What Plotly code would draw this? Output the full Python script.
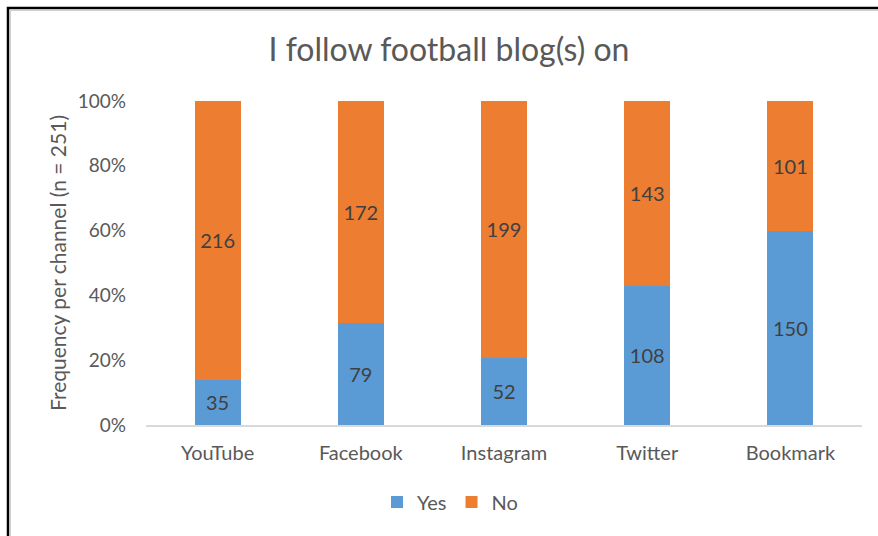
import plotly.graph_objects as go

categories = ["YouTube", "Facebook", "Instagram", "Twitter", "Bookmark"]
yes_counts = [35, 79, 52, 108, 150]
no_counts = [216, 172, 199, 143, 101]
y_ticks = [0, 20, 40, 60, 80, 100]
y_tick_labels = ["0%", "20%", "40%", "60%", "80%", "100%"]

W, H = 878, 536
L, R, T, B = 146, 16, 101, 111
pw, ph = W - L - R, H - T - B

FONT = "Lato"
GRAY = "#595959"

fig = go.Figure()
fig.add_trace(go.Bar(name="Yes", x=categories, y=yes_counts, text=yes_counts,
                     marker=dict(color="#5B9BD5", line=dict(width=0)),
                     textposition="inside", insidetextanchor="middle",
                     textfont=dict(color="#404040", size=20, family=FONT)))
fig.add_trace(go.Bar(name="No", x=categories, y=no_counts, text=no_counts,
                     marker=dict(color="#ED7D31", line=dict(width=0)),
                     textposition="inside", insidetextanchor="middle",
                     textfont=dict(color="#404040", size=20, family=FONT)))

def px_x(p):
    return (p - L) / pw

def px_y(p):
    return 1 - (p - T) / ph

bx, by = px_x(8), px_y(8)
ex, ey = px_x(W + 20), px_y(H + 20)
fig.add_shape(type="path", xref="paper", yref="paper",
              path=f"M {bx} {ey} L {bx} {by} L {ex} {by}",
              line=dict(color="black", width=2.5))
fig.add_shape(type="path", xref="paper", yref="paper",
              path=f"M {px_x(10.5)} {ey} L {px_x(10.5)} {px_y(10.5)} L {ex} {px_y(10.5)}",
              line=dict(color="#d0d0d0", width=1))

fig.update_layout(
    width=W, height=H,
    margin=dict(l=L, r=R, t=T, b=B),
    barmode="stack", barnorm="percent", bargap=0.68,
    paper_bgcolor="white", plot_bgcolor="white",
    font=dict(family=FONT, color=GRAY, size=20),
    title=dict(text="I follow football blog(s) on", xref="container", yref="container",
               x=449 / W, y=1 - 50 / H, xanchor="center", yanchor="middle",
               font=dict(size=32, color=GRAY, family=FONT)),
    showlegend=True,
    legend=dict(orientation="h", x=px_x(450), y=px_y(502), xanchor="center", yanchor="middle",
                font=dict(size=20, color=GRAY, family=FONT), itemwidth=30,
                traceorder="normal"),
    xaxis=dict(showgrid=False, showline=True, linecolor="#d9d9d9", linewidth=1.5,
               ticks="", ticklabelstandoff=9, tickfont=dict(size=20, color=GRAY)),
    yaxis=dict(range=[0, 100], tickmode="array", tickvals=y_ticks, ticktext=y_tick_labels,
               showgrid=False, showline=False, zeroline=False, ticks="",
               ticklabelstandoff=19, tickfont=dict(size=19, color=GRAY),
               title=dict(text="Frequency per channel (n = 251)", standoff=5,
                          font=dict(size=21, color=GRAY))),
)

fig.write_html("out.html")
